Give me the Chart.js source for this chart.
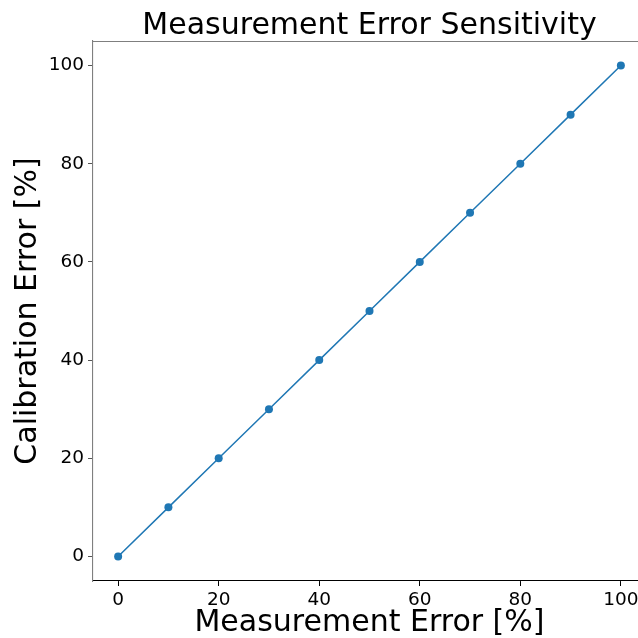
<!DOCTYPE html>
<html>
<head>
<meta charset="utf-8">
<script src="https://cdn.jsdelivr.net/npm/chart.js@4"></script>
<style>
  html, body { margin: 0; padding: 0; background: #fff; overflow: hidden; }
  #wrap { position: absolute; left: 0; top: 0; width: 660px; height: 638px; }
</style>
</head>
<body>
<div id="wrap"><canvas id="c" width="660" height="638"></canvas></div>
<script>
// Measurement error vs. resulting calibration error (percent)
const measurementError = [0, 10, 20, 30, 40, 50, 60, 70, 80, 90, 100];
const calibrationError = [0, 10, 20, 30, 40, 50, 60, 70, 80, 90, 100];
const xTicks = [0, 20, 40, 60, 80, 100];
const yTicks = [0, 20, 40, 60, 80, 100];

const chartTitle = 'Measurement Error Sensitivity';
const xLabel = 'Measurement Error [%]';
const yLabel = 'Calibration Error [%]';

const FONT = "'DejaVu Sans', sans-serif";
const LINE = '#1f77b4';

// title centred over the plot area plus the top frame line
const framePlugin = {
  id: 'frame',
  afterDraw(chart) {
    const { ctx, chartArea: a } = chart;
    ctx.save();
    ctx.strokeStyle = '#7f7f7f';
    ctx.lineWidth = 1.1;
    ctx.beginPath();
    ctx.moveTo(a.left, a.top + 0.5);
    ctx.lineTo(a.right, a.top + 0.5);
    ctx.stroke();
    ctx.fillStyle = '#000';
    ctx.font = '30px ' + FONT;
    ctx.textAlign = 'center';
    ctx.textBaseline = 'alphabetic';
    ctx.fillText(chartTitle, (a.left + a.right) / 2, 34);
    ctx.restore();
  }
};

new Chart(document.getElementById('c'), {
  type: 'line',
  data: {
    datasets: [{
      data: measurementError.map((x, i) => ({ x, y: calibrationError[i] })),
      borderColor: LINE,
      backgroundColor: LINE,
      borderWidth: 1.5,
      pointRadius: 4,
      pointHoverRadius: 4,
      pointBorderWidth: 0,
      tension: 0
    }]
  },
  options: {
    responsive: false,
    animation: false,
    layout: { padding: { left: 0, right: 14, top: 41, bottom: 0 } },
    plugins: { legend: { display: false }, tooltip: { enabled: false } },
    scales: {
      x: {
        type: 'linear',
        min: -5, max: 105,
        afterBuildTicks: s => { s.ticks = xTicks.map(v => ({ value: v })); },
        afterFit: s => { s.height = 57; },
        grid: { drawOnChartArea: false, drawTicks: true, tickLength: 5, color: '#000', tickWidth: 1 },
        border: { display: true, color: '#000', width: 1.1 },
        ticks: { color: '#000', font: { family: FONT, size: 18.5 }, padding: 3, maxRotation: 0 },
        title: { display: true, text: xLabel, color: '#000', font: { family: FONT, size: 30 }, padding: { top: 0, bottom: -3 } }
      },
      y: {
        type: 'linear',
        min: -5, max: 105,
        afterBuildTicks: s => { s.ticks = yTicks.map(v => ({ value: v })); },
        afterFit: s => { s.width = 93; },
        grid: { drawOnChartArea: false, drawTicks: true, tickLength: 5, color: '#555', tickWidth: 1 },
        border: { display: true, color: '#7f7f7f', width: 1.1 },
        ticks: { color: '#000', font: { family: FONT, size: 18.5 }, padding: 4 },
        title: { display: true, text: yLabel, color: '#000', font: { family: FONT, size: 30 }, padding: { top: 10, bottom: 0 } }
      }
    }
  },
  plugins: [framePlugin]
});
</script>
</body>
</html>
